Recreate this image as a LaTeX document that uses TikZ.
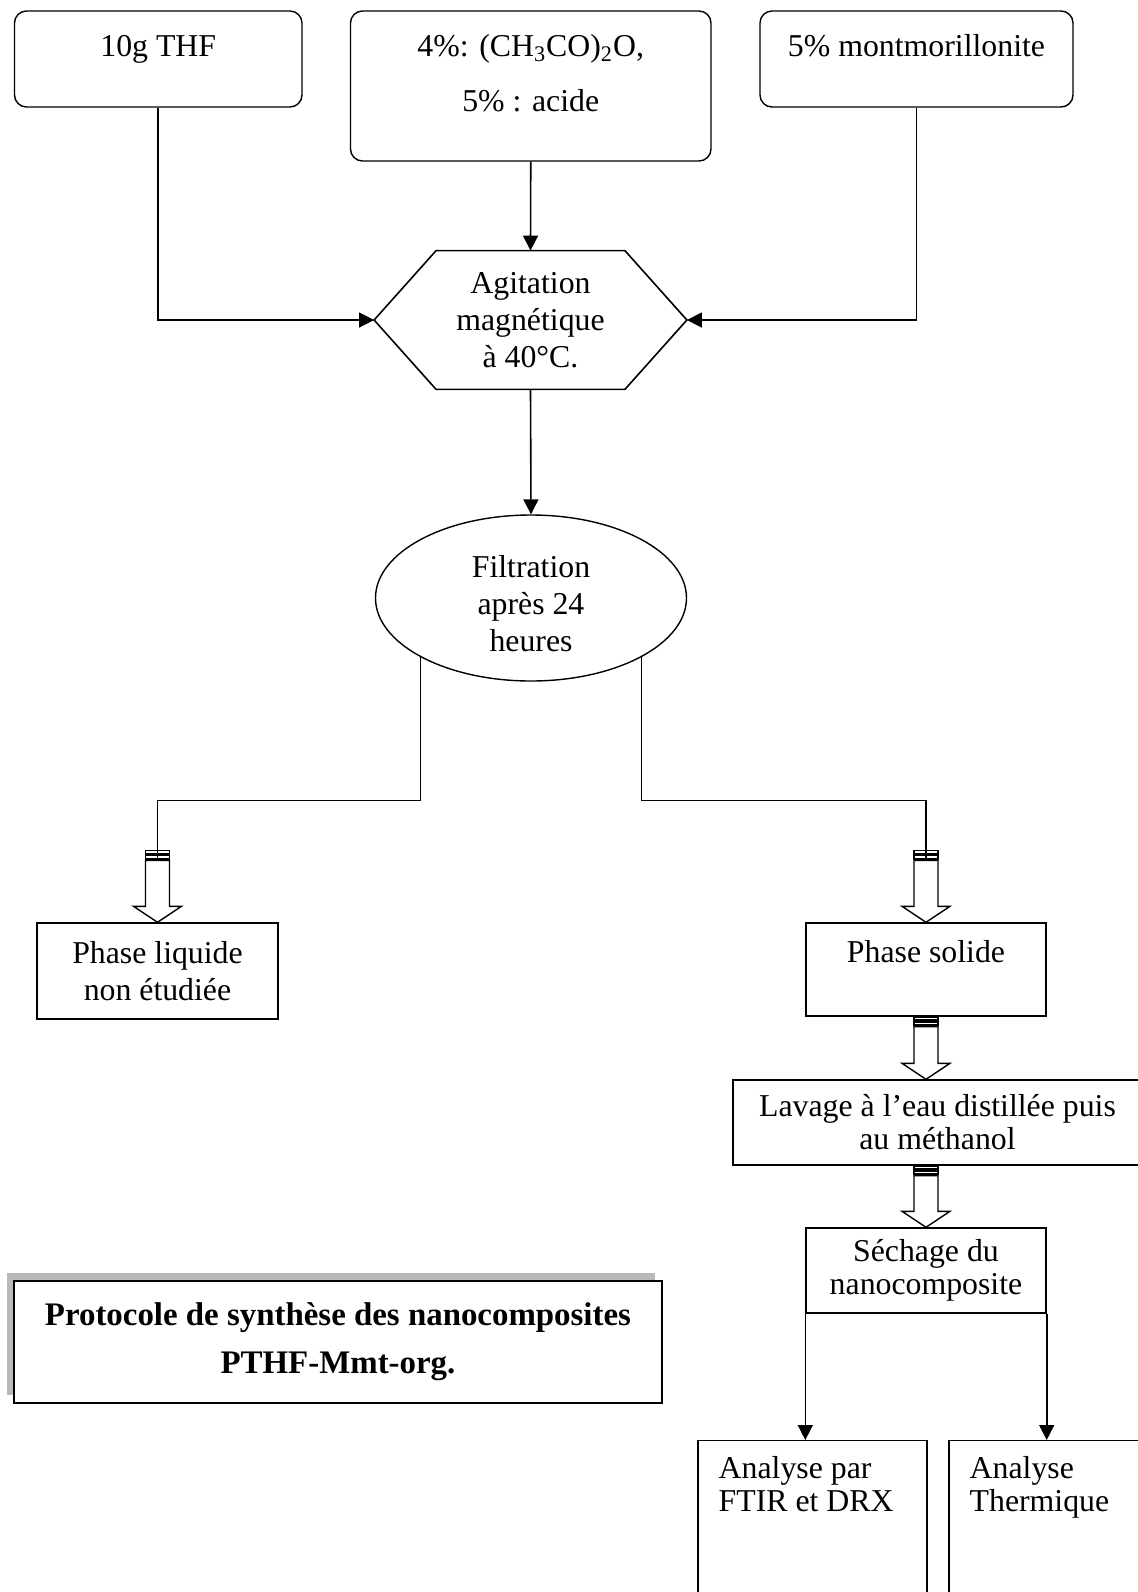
\documentclass[tikz,border=0pt]{standalone}
\usepackage{fontspec}
\setmainfont{Liberation Serif}
\usetikzlibrary{arrows.meta, calc, positioning, shapes.geometric, shadows}
\newcommand{\bodyfont}{\fontsize{15.9pt}{18.5pt}\selectfont}
\newcommand{\tightfont}{\fontsize{15.9pt}{16.5pt}\selectfont}
\tikzset{
  inbox/.style={draw, rounded corners=6pt, line width=0.7pt, inner sep=0pt},
  stepbox/.style={draw, line width=0.7pt, align=center},
  link/.style={line width=0.8pt},
  flow/.style={link, -{Triangle[length=7.5pt, width=7.5pt]}},
  bars/.style={line width=0.8pt},
  hollow/.style={line width=0.7pt, fill=white},
}
% striped block arrow: #1 = tail, #2 = tip
\newcommand{\stripedarrow}[2]{%
  \draw[bars] ($(#1)+(-12,0)$) rectangle ($(#1)+(12,3.5)$)
              ($(#1)+(-12,5)$) rectangle ($(#1)+(12,8.5)$);
  \draw[hollow] ($(#1)+(-12,10)$) -- ($(#2)+(-12,-16)$) -- ($(#2)+(-24,-16)$)
    -- (#2) -- ($(#2)+(24,-16)$) -- ($(#2)+(12,-16)$) -- ($(#1)+(12,10)$) -- cycle;
}

\begin{document}
\begin{tikzpicture}[x=0.5pt, y=-0.5pt, font=\bodyfont]
  \useasboundingbox (0,0) rectangle (1138,1592);

  % ----- starting materials -----
  \node[inbox, minimum width=143.75pt, minimum height=48pt,
        label={[anchor=base, yshift=-23pt]north:10g THF}] (thf) at (158.25,59) {};
  \node[inbox, minimum width=180.25pt, minimum height=75pt,
        label={[anchor=base, yshift=-23pt]north:{4\%: (CH\textsubscript{3}CO)\textsubscript{2}O,}},
        label={[anchor=base, yshift=-50.5pt]north:{5\% : acide}}] (acid) at (530.75,86) {};
  \node[inbox, minimum width=156.5pt, minimum height=48pt,
        label={[anchor=base, yshift=-23pt]north:5\% montmorillonite}] (mont) at (916.5,59) {};

  % ----- mixing and filtration -----
  \node[minimum width=156pt, minimum height=69pt, align=center, inner sep=0pt] (agit)
        at (530.5,320) {Agitation\\magnétique\\à 40°C.};
  \draw[link] (agit.west) -- ($(agit.north west)+(62,0)$) -- ($(agit.north east)+(-62,0)$)
     -- (agit.east) -- ($(agit.south east)+(-62,0)$) -- ($(agit.south west)+(62,0)$) -- cycle;
  \node[ellipse, draw, line width=0.7pt, minimum width=155.5pt, minimum height=83pt,
        inner sep=0pt, label={[anchor=center, align=center, inner sep=0pt, yshift=-3pt]
        center:Filtration\\après 24\\heures}] (filt) at (531,598) {};

  \draw[flow] (thf.south) |- (agit.west);
  \draw[flow] (mont.south) |- (agit.east);
  \draw[flow] (acid.south) -- (agit.north);
  \draw[flow] (agit.south) -- (filt.north);

  % ----- phases and treatment -----
  \node[stepbox, minimum width=120.5pt, minimum height=48pt] (liq) at (157.5,971)
        {Phase liquide\\non étudiée};
  \node[stepbox, minimum width=120pt, minimum height=46.5pt,
        label={[anchor=base, yshift=-20pt]north:Phase solide}] (sol) at (926,969.5) {};
  \node[stepbox, minimum width=204.5pt, minimum height=42.5pt, font=\tightfont] (lav)
        at (937.5,1122.5) {Lavage à l’eau distillée puis\\au méthanol};
  \node[stepbox, minimum width=120pt, minimum height=42.5pt, font=\tightfont] (sech)
        at (926,1270.5) {Séchage du\\nanocomposite};
  \node[stepbox, minimum width=114.5pt, minimum height=100pt, anchor=north,
        label={[anchor=north west, align=left, inner sep=0pt, xshift=10.5pt, yshift=-8.2pt,
                font=\tightfont]north west:Analyse par\\FTIR et DRX}] (ftir) at (812.5,1440) {};
  \node[stepbox, minimum width=115.5pt, minimum height=100pt, anchor=north,
        label={[anchor=north west, align=left, inner sep=0pt, xshift=10.5pt, yshift=-8.2pt,
                font=\tightfont]north west:Analyse\\Thermique}] (therm) at (1064.5,1440) {};

  % ----- split after filtration -----
  \coordinate (liqtail) at ($(liq.north)+(0,-72)$);
  \coordinate (soltail) at ($(sol.north)+(0,-72)$);
  \draw[link] (filt.south west) |- ($(liqtail)+(0,-50)$) -- ($(liqtail)+(0,10)$);
  \draw[link] (filt.south east) |- ($(soltail)+(0,-50)$) -- ($(soltail)+(0,10)$);
  \stripedarrow{liqtail}{liq.north}
  \stripedarrow{soltail}{sol.north}
  \coordinate (lavtip) at (sol.south |- lav.north);
  \coordinate (sechtail) at (lav.south -| sech.north);
  \stripedarrow{sol.south}{lavtip}
  \stripedarrow{sechtail}{sech.north}

  \draw[flow] (sech.south west) -- (sech.south west |- ftir.north);
  \draw[flow] (sech.south east) -- (sech.south east |- therm.north);

  % ----- caption box -----
  \node[draw, fill=white, line width=0.7pt, minimum width=324pt, minimum height=61pt,
        align=center, font=\bfseries\fontsize{16.45pt}{24pt}\selectfont,
        drop shadow={shadow xshift=-3.5pt, shadow yshift=4pt, fill=gray!55, opacity=1}]
        (title) at (338,1342) {Protocole de synthèse des nanocomposites\\PTHF-Mmt-org.};
\end{tikzpicture}
\end{document}
